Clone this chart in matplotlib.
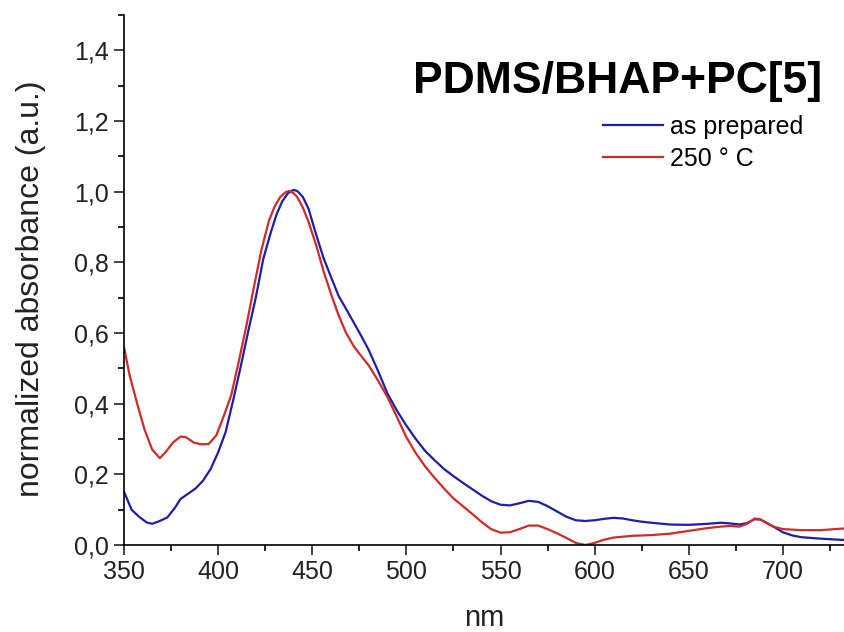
import matplotlib
matplotlib.use("Agg")
import matplotlib.pyplot as plt
from matplotlib.ticker import MultipleLocator, FuncFormatter

plt.rcParams['font.family'] = ['Liberation Sans', 'DejaVu Sans']

# UV-vis spectra, normalized to the main band
wlPrepared = [350, 354, 358, 362, 365, 369, 373, 377, 380, 384, 388, 392, 396, 400,
              404, 408, 412, 416, 420, 424, 428, 431, 434, 437, 440, 442, 445, 448,
              452, 456, 460, 464, 468, 472, 476, 480, 485, 490, 495, 500, 505, 510,
              515, 520, 525, 530, 535, 540, 545, 550, 555, 560, 565, 570, 575, 580,
              585, 590, 595, 600, 605, 610, 615, 620, 625, 630, 640, 650, 660, 667,
              672, 677, 681, 685, 688, 691, 695, 700, 705, 710, 720, 733]
absPrepared = [0.151, 0.100, 0.080, 0.064, 0.060, 0.068, 0.078, 0.105, 0.130, 0.145,
               0.160, 0.182, 0.215, 0.262, 0.320, 0.410, 0.505, 0.605, 0.700, 0.810,
               0.885, 0.935, 0.972, 0.995, 1.005, 1.002, 0.985, 0.952, 0.880, 0.812,
               0.758, 0.705, 0.668, 0.630, 0.592, 0.552, 0.492, 0.428, 0.380, 0.338,
               0.300, 0.266, 0.240, 0.215, 0.195, 0.176, 0.158, 0.140, 0.124, 0.114,
               0.112, 0.118, 0.125, 0.122, 0.110, 0.095, 0.080, 0.070, 0.068, 0.070,
               0.074, 0.077, 0.075, 0.070, 0.066, 0.063, 0.058, 0.057, 0.060, 0.063,
               0.061, 0.058, 0.062, 0.073, 0.072, 0.064, 0.052, 0.036, 0.027, 0.022,
               0.018, 0.014]

wlAnnealed = [350, 353, 357, 361, 365, 369, 372, 376, 380, 383, 387, 391, 395, 399,
              403, 407, 411, 415, 419, 423, 427, 430, 433, 436, 438, 440, 442, 445,
              448, 452, 456, 460, 464, 468, 472, 476, 480, 485, 490, 495, 500, 505,
              510, 515, 520, 525, 530, 535, 540, 545, 550, 555, 560, 565, 570, 575,
              580, 585, 590, 595, 600, 605, 610, 620, 630, 640, 650, 660, 667, 672,
              677, 681, 685, 688, 691, 695, 700, 710, 720, 733]
absAnnealed = [0.560, 0.480, 0.400, 0.325, 0.270, 0.246, 0.262, 0.290, 0.307, 0.305,
               0.290, 0.285, 0.286, 0.310, 0.365, 0.425, 0.520, 0.620, 0.730, 0.835,
               0.918, 0.958, 0.985, 0.999, 1.002, 0.996, 0.985, 0.955, 0.915, 0.850,
               0.775, 0.710, 0.650, 0.600, 0.563, 0.535, 0.508, 0.465, 0.418, 0.362,
               0.305, 0.260, 0.222, 0.190, 0.160, 0.132, 0.110, 0.088, 0.065, 0.045,
               0.035, 0.036, 0.045, 0.055, 0.055, 0.045, 0.033, 0.020, 0.006, 0.000,
               0.006, 0.015, 0.021, 0.026, 0.028, 0.032, 0.040, 0.048, 0.052, 0.054,
               0.052, 0.060, 0.075, 0.073, 0.063, 0.052, 0.045, 0.042, 0.042, 0.047]

seriesLabels = ['as prepared', '250 \u00b0 C']
seriesColors = ['#1e1ea6', '#d02a2a']

fig = plt.figure(figsize=(8.45, 6.32), dpi=100)
ax = fig.add_axes([124 / 845, 1 - 545 / 632, 721 / 845, 530 / 632])

ax.plot(wlPrepared, absPrepared, color=seriesColors[0], lw=1.6, label=seriesLabels[0])
ax.plot(wlAnnealed, absAnnealed, color=seriesColors[1], lw=1.6, label=seriesLabels[1])

ax.set_xlim(350, 733)
ax.set_ylim(0, 1.5)

ax.xaxis.set_major_locator(MultipleLocator(50))
ax.xaxis.set_minor_locator(MultipleLocator(25))
ax.yaxis.set_major_locator(MultipleLocator(0.2))
ax.yaxis.set_minor_locator(MultipleLocator(0.1))
# decimal comma on the y axis
ax.yaxis.set_major_formatter(FuncFormatter(lambda v, pos: ('%.1f' % v).replace('.', ',')))

for side in ['top', 'right']:
    ax.spines[side].set_visible(False)
for side in ['left', 'bottom']:
    ax.spines[side].set_linewidth(1.2)

ax.tick_params(which='major', direction='out', length=7, width=1.2, labelsize=18,
               colors='#222222', pad=4)
ax.tick_params(which='minor', direction='out', length=4, width=1.2)

ax.set_xlabel('nm', fontsize=21, color='#222222')
ax.xaxis.set_label_coords(0.5, -0.112)
ax.xaxis.label.set_va('top')
ax.set_ylabel('normalized absorbance (a.u.)', fontsize=23, color='#222222')
ax.yaxis.set_label_coords(-0.108, 0.483)

fig.text(822 / 845, 1 - 93 / 632, 'PDMS/BHAP+PC[5]', fontsize=32, fontweight='bold',
         ha='right', va='baseline')

ax.legend(loc='upper left', bbox_to_anchor=(603 / 845, 1 - 115 / 632),
          bbox_transform=fig.transFigure, frameon=False, fontsize=18,
          handlelength=2.4, handletextpad=0.3, labelspacing=0.3, borderpad=0,
          borderaxespad=0)

fig.savefig('out.png', dpi=100)
